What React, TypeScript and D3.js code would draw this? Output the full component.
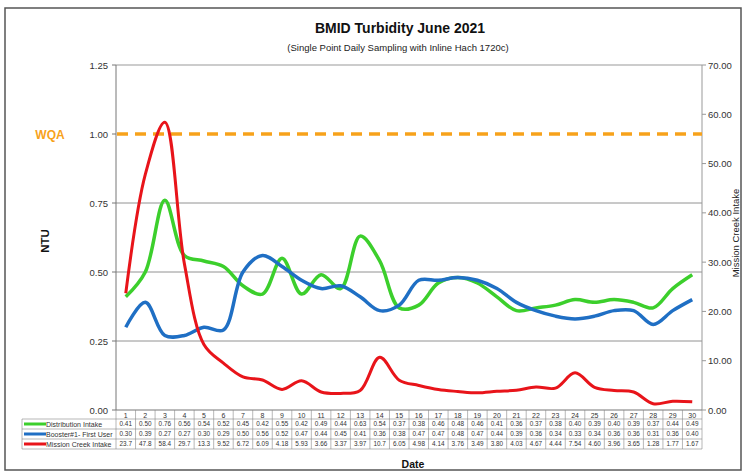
import React from "react";
import * as d3 from "d3";

const days = d3.range(1, 31);
const distribution = [0.41, 0.50, 0.76, 0.56, 0.54, 0.52, 0.45, 0.42, 0.55, 0.42, 0.49, 0.44, 0.63, 0.54, 0.37, 0.38, 0.46, 0.48, 0.46, 0.41, 0.36, 0.37, 0.38, 0.40, 0.39, 0.40, 0.39, 0.37, 0.44, 0.49];
const booster = [0.30, 0.39, 0.27, 0.27, 0.30, 0.29, 0.50, 0.56, 0.52, 0.47, 0.44, 0.45, 0.41, 0.36, 0.38, 0.47, 0.47, 0.48, 0.47, 0.44, 0.39, 0.36, 0.34, 0.33, 0.34, 0.36, 0.36, 0.31, 0.36, 0.40];
const missionCreek = ["23.7", "47.8", "58.4", "29.7", "13.3", "9.52", "6.72", "6.09", "4.18", "5.93", "3.66", "3.37", "3.97", "10.7", "6.05", "4.98", "4.14", "3.76", "3.49", "3.80", "4.03", "4.67", "4.44", "7.54", "4.60", "3.96", "3.65", "1.28", "1.77", "1.67"];
const leftTicks = [0, 0.25, 0.5, 0.75, 1.0, 1.25];
const rightTicks = [0, 10, 20, 30, 40, 50, 60, 70];
const WQA = 1.0;

const FONT = "'Liberation Sans', Arial, sans-serif";
const GREEN = "#3ccf2c";
const BLUE = "#1f6fc4";
const RED = "#e8141a";
const ORANGE = "#f7a21b";

export default function App() {
  const W = 745, H = 471;
  const m = { left: 116, right: 702, top: 65, bottom: 410 };

  const x = d3.scaleBand<number>().domain(days).range([m.left, m.right]);
  const cx = (d: number) => (x(d) as number) + x.bandwidth() / 2;
  const yL = d3.scaleLinear().domain([0, 1.25]).range([m.bottom, m.top]);
  const yR = d3.scaleLinear().domain([0, 70]).range([m.bottom, m.top]);

  const lineL = d3.line<number>().x((_, i) => cx(days[i])).y(d => yL(d)).curve(d3.curveCatmullRom.alpha(0.5));
  const lineR = d3.line<string>().x((_, i) => cx(days[i])).y(d => yR(+d)).curve(d3.curveCatmullRom.alpha(0.5));

  // data table geometry
  const headH = 9;
  const rowH = 10;
  const tableTop = m.bottom;
  const rowTop = (j: number) => tableTop + headH + rowH * j;
  const tableBottom = rowTop(3);
  const legendLeft = 22;
  const rows = [
    { label: "Distribution Intake", color: GREEN, vals: distribution.map(v => v.toFixed(2)) },
    { label: "Booster#1- First User", color: BLUE, vals: booster.map(v => v.toFixed(2)) },
    { label: "Mission Creek Intake", color: RED, vals: missionCreek },
  ];

  return (
    <svg width={W} height={H} style={{ position: "absolute", left: 0, top: 0, fontFamily: FONT }}>
      <rect x={0} y={0} width={W} height={H} fill="#fff" />
      <rect x={5} y={8} width={W - 9} height={H - 9} fill="none" stroke="#555" strokeWidth={1.5} />

      <text x={400} y={33} textAnchor="middle" fontSize={14} fontWeight="bold" fill="#111">BMID Turbidity June 2021</text>
      <text x={398} y={51} textAnchor="middle" fontSize={9.5} fill="#222">(Single Point Daily Sampling with Inline Hach 1720c)</text>

      {/* gridlines */}
      {leftTicks.filter(t => t > 0 && t < 1.25 && t !== 1).map(t => (
        <line key={t} x1={m.left} x2={m.right} y1={yL(t)} y2={yL(t)} stroke="#777" strokeWidth={0.8} />
      ))}

      {/* plot frame */}
      <line x1={m.left} x2={m.right} y1={m.top} y2={m.top} stroke="#999" />
      <line x1={m.left} x2={m.left} y1={m.top} y2={m.bottom} stroke="#777" />
      <line x1={m.right} x2={m.right} y1={m.top} y2={m.bottom} stroke="#999" />
      <line x1={m.left} x2={m.right} y1={m.bottom} y2={m.bottom} stroke="#777" />

      {/* left axis */}
      {leftTicks.map(t => (
        <g key={t}>
          <line x1={m.left - 4} x2={m.left} y1={yL(t)} y2={yL(t)} stroke="#777" />
          <text x={m.left - 8} y={yL(t) + 3.5} textAnchor="end" fontSize={9.5} fill="#333">{t.toFixed(2)}</text>
        </g>
      ))}
      {/* right axis */}
      {rightTicks.map(t => (
        <g key={t}>
          <line x1={m.right} x2={m.right + 4} y1={yR(t)} y2={yR(t)} stroke="#999" />
          <text x={m.right + 6} y={yR(t) + 3.5} textAnchor="start" fontSize={9.5} fill="#333">{t.toFixed(2)}</text>
        </g>
      ))}

      <text transform={`translate(49,241) rotate(-90)`} textAnchor="middle" fontSize={11.5} fontWeight="bold" fill="#111">NTU</text>
      <text transform={`translate(739,233) rotate(-90)`} textAnchor="middle" fontSize={9.5} fill="#222">Mission Creek Intake</text>
      <text x={50} y={yL(WQA) + 4.5} textAnchor="middle" fontSize={12} fontWeight="bold" fill={ORANGE}>WQA</text>

      {/* WQA line */}
      <line x1={m.left + 1} x2={m.right} y1={yL(WQA)} y2={yL(WQA)} stroke={ORANGE} strokeWidth={3.5} strokeDasharray="11,7" />

      {/* series */}
      <path d={lineL(distribution) ?? ""} fill="none" stroke={GREEN} strokeWidth={3.5} />
      <path d={lineL(booster) ?? ""} fill="none" stroke={BLUE} strokeWidth={3.5} />
      <path d={lineR(missionCreek) ?? ""} fill="none" stroke={RED} strokeWidth={3} />

      {/* data table */}
      {days.map((d, i) => (
        <g key={d}>
          <line x1={x(d) as number} x2={x(d) as number} y1={tableTop} y2={tableBottom} stroke="#888" strokeWidth={0.6} />
          <text x={cx(d)} y={tableTop + headH - 1.5} textAnchor="middle" fontSize={7} fill="#333">{d}</text>
          {rows.map((r, j) => (
            <text key={j} x={cx(d)} y={rowTop(j) + rowH - 2.6} textAnchor="middle" fontSize={6.4} fill="#333">{r.vals[i]}</text>
          ))}
        </g>
      ))}
      <line x1={m.right} x2={m.right} y1={tableTop} y2={tableBottom} stroke="#888" strokeWidth={0.6} />
      {rows.map((r, j) => {
        const yTop = rowTop(j);
        return (
          <g key={r.label}>
            <line x1={legendLeft} x2={m.right} y1={yTop} y2={yTop} stroke="#888" strokeWidth={0.6} />
            <line x1={legendLeft + 2} x2={legendLeft + 24} y1={yTop + rowH / 2} y2={yTop + rowH / 2} stroke={r.color} strokeWidth={3} />
            <text x={legendLeft + 24} y={yTop + rowH - 2.5} fontSize={7} fill="#333">{r.label}</text>
          </g>
        );
      })}
      <line x1={legendLeft} x2={m.right} y1={tableBottom} y2={tableBottom} stroke="#888" strokeWidth={0.6} />
      <line x1={legendLeft} x2={legendLeft} y1={rowTop(0)} y2={tableBottom} stroke="#888" strokeWidth={0.6} />

      <text x={413} y={468} textAnchor="middle" fontSize={10.5} fontWeight="bold" fill="#111">Date</text>
    </svg>
  );
}
